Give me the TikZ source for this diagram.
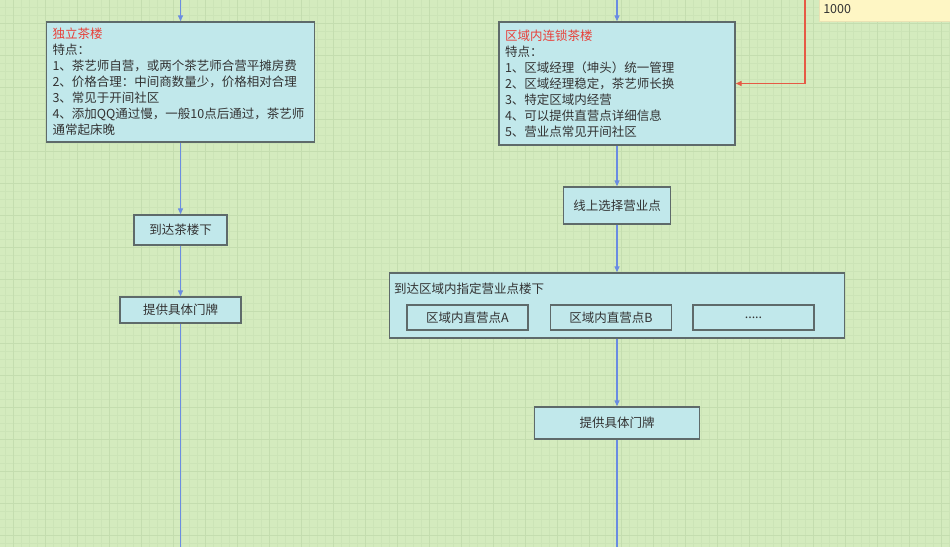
\documentclass[tikz,border=0pt]{standalone}
\usepackage{fontspec}
\setmainfont{Noto Sans CJK SC}
\usetikzlibrary{arrows.meta}
\definecolor{bgcol}{HTML}{D4EBBE}
\definecolor{minorcol}{HTML}{CCE4B7}
\definecolor{majorcol}{HTML}{C4DDAF}
\definecolor{boxfill}{HTML}{C1E8EB}
\definecolor{boxdraw}{HTML}{5E6A6A}
\definecolor{txt}{HTML}{333333}
\definecolor{titlered}{HTML}{E8403A}
\definecolor{flowblue}{HTML}{6A8CE2}
\definecolor{flowred}{HTML}{E65A45}
\definecolor{notefill}{HTML}{FEF6C4}
\tikzset{
  minorline/.style={draw=minorcol, line width=0.7pt},
  majorline/.style={draw=majorcol, line width=1pt},
  stepbox/.style={draw=boxdraw, fill=boxfill, line width=1.4pt, rectangle, inner sep=0pt,
    text=txt, font=\fontsize{12.5}{16}\selectfont},
  infobox/.style={stepbox, align=left, inner xsep=6pt, inner ysep=0pt},
  plainlabel/.style={text=txt, font=\fontsize{12.5}{16}\selectfont, inner sep=0pt},
  flow/.style={draw=flowblue, line width=1.3pt, -{Triangle[length=6pt,width=5pt]}},
  flowplain/.style={draw=flowblue, line width=1.3pt},
  redflow/.style={draw=flowred, line width=1.3pt, -{Triangle[length=6pt,width=5pt]}},
  notebox/.style={fill=notefill, draw=notefill!92!black, line width=0.6pt, rectangle, inner sep=0pt,
    text=txt, font=\fontsize{12.5}{16}\selectfont},
}
\begin{document}
\begin{tikzpicture}[x=1pt,y=-1pt]
\useasboundingbox (0,0) rectangle (950,547);
% background grid
\fill[bgcol] (0,0) rectangle (950,547);
\foreach \x in {5,13,...,949} \draw[minorline] (\x,0) -- (\x,547);
\foreach \y in {7,15,...,547} \draw[minorline] (0,\y) -- (950,\y);
\foreach \x in {13,45,...,949} \draw[majorline] (\x,0) -- (\x,547);
\foreach \y in {23,55,...,547} \draw[majorline] (0,\y) -- (950,\y);

% note (top right)
\node[notebox, anchor=south west, minimum width=140pt, minimum height=26pt,
      text width=134pt, align=left, inner xsep=4pt] (note) at (819,22) {1000};

% left column
\node[infobox, text width=256pt, minimum height=120pt] (box1) at (180.5,82) {%
{\color{titlered}独立茶楼}\\
特点：\\
1、茶艺师自营，或两个茶艺师合营平摊房费\\
2、价格合理：中间商数量少，价格相对合理\\
3、常见于开间社区\\
4、添加QQ通过慢，一般10点后通过，茶艺师\\
通常起床晚};
\node[stepbox, minimum width=93pt, minimum height=30pt] (arrive1) at (180.5,230) {到达茶楼下};
\node[stepbox, minimum width=121pt, minimum height=26pt] (door1) at (180.5,310) {提供具体门牌};

% right column
\node[infobox, text width=224pt, minimum height=123pt] (box2) at (617,83.5) {%
{\color{titlered}区域内连锁茶楼}\\
特点：\\
1、区域经理（坤头）统一管理\\
2、区域经理稳定，茶艺师长换\\
3、特定区域内经营\\
4、可以提供直营点详细信息\\
5、营业点常见开间社区};
\node[stepbox, minimum width=107pt, minimum height=37pt] (online) at (617,205.5) {线上选择营业点};
\node[stepbox, minimum width=455pt, minimum height=65pt] (big) at (617,305.5) {};
\node[plainlabel, anchor=west] (biglabel) at (394,289) {到达区域内指定营业点楼下};
\node[stepbox, minimum width=121pt, minimum height=25pt] (subA) at (467.5,317.5) {区域内直营点A};
\node[stepbox, minimum width=121pt, minimum height=25pt] (subB) at (611,317.5) {区域内直营点B};
\node[stepbox, minimum width=121pt, minimum height=25pt] (subC) at (753.5,317.5) {.....};
\node[stepbox, minimum width=165pt, minimum height=32pt] (door2) at (617,423) {提供具体门牌};

% connector ends
\coordinate (top1) at (180.5,0);
\coordinate (bot1) at (180.5,547);
\coordinate (top2) at (617,0);
\coordinate (bot2) at (617,547);
\coordinate (redtop) at (805,0);

% connectors
\draw[flow] (top1) -- (box1);
\draw[flow] (box1) -- (arrive1);
\draw[flow] (arrive1) -- (door1);
\draw[flowplain] (door1) -- (bot1);
\draw[flow] (top2) -- (box2);
\draw[flow] (box2) -- (online);
\draw[flow] (online) -- (big);
\draw[flow] (big) -- (door2);
\draw[flowplain] (door2) -- (bot2);
\draw[redflow] (redtop) |- (box2);
\end{tikzpicture}
\end{document}
